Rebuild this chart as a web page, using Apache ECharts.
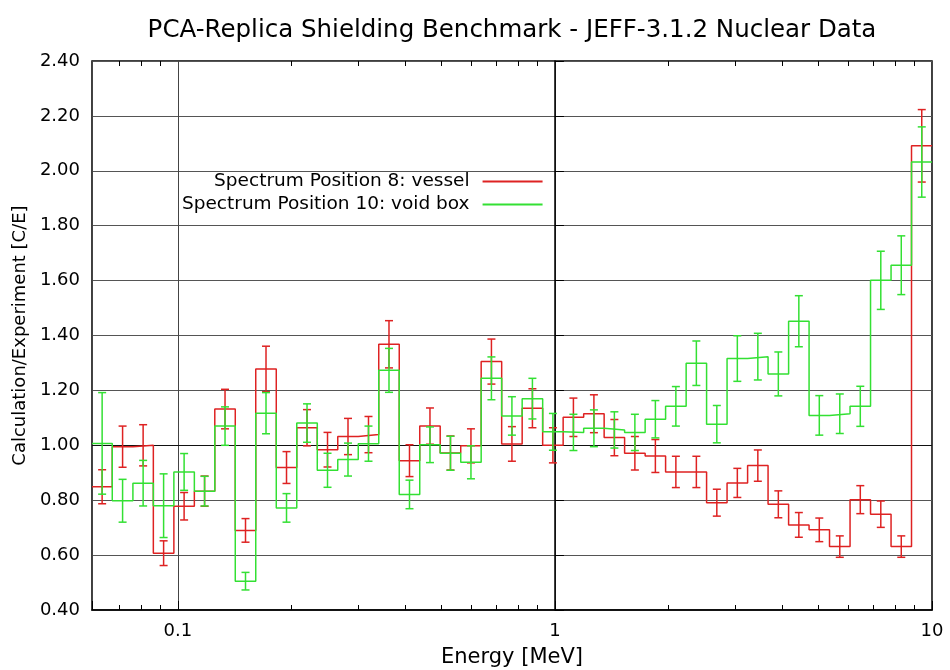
<!DOCTYPE html>
<html>
<head>
<meta charset="utf-8">
<script src="https://cdn.jsdelivr.net/npm/echarts@6/dist/echarts.min.js"></script>
<style>
  html, body { margin: 0; padding: 0; background: #fff; }
  #chart { width: 950px; height: 670px; }
</style>
</head>
<body>
<div id="chart"></div>
<script>
// Energy group boundaries [MeV] (41 bins)
const edges = [0.0592, 0.0670, 0.0760, 0.0861, 0.0976, 0.1106, 0.1253, 0.1420, 0.1609, 0.1824,
  0.2067, 0.2343, 0.2655, 0.3009, 0.3410, 0.3865, 0.4380, 0.4963, 0.5626, 0.6374,
  0.7224, 0.8187, 0.9279, 1.0515, 1.1919, 1.3506, 1.5303, 1.7349, 1.9656, 2.2284,
  2.5246, 2.8609, 3.2433, 3.6748, 4.1660, 4.7206, 5.3482, 6.0628, 6.8707, 7.7876,
  8.8239, 10];

// Spectrum Position 8: vessel  (C/E and uncertainty)
const vesselCE = [0.849, 0.995, 1.000, 0.607, 0.778, 0.833, 1.132, 0.690, 1.278, 0.919,
  1.064, 0.984, 1.032, 1.039, 1.368, 0.944, 1.070, 0.972, 0.998, 1.305,
  1.005, 1.135, 1.000, 1.102, 1.115, 1.028, 0.971, 0.961, 0.903, 0.903,
  0.791, 0.863, 0.926, 0.785, 0.710, 0.692, 0.631, 0.802, 0.749, 0.631,
  2.091];
const vesselErr = [0.062, 0.075, 0.075, 0.045, 0.050, 0.055, 0.072, 0.043, 0.083, 0.058,
  0.066, 0.063, 0.066, 0.066, 0.086, 0.058, 0.066, 0.062, 0.062, 0.082,
  0.063, 0.071, 0.064, 0.070, 0.069, 0.066, 0.061, 0.060, 0.057, 0.057,
  0.049, 0.053, 0.057, 0.049, 0.045, 0.043, 0.039, 0.051, 0.048, 0.039,
  0.132];

// Spectrum Position 10: void box
const voidCE = [1.007, 0.798, 0.862, 0.780, 0.903, 0.833, 1.070, 0.505, 1.117, 0.772,
  1.081, 0.909, 0.948, 1.006, 1.273, 0.821, 1.002, 0.971, 0.938, 1.244,
  1.107, 1.170, 1.049, 1.047, 1.062, 1.056, 1.047, 1.095, 1.142, 1.299,
  1.077, 1.316, 1.323, 1.260, 1.452, 1.109, 1.115, 1.142, 1.601, 1.656,
  2.032];
const voidErr = [0.185, 0.078, 0.083, 0.116, 0.067, 0.054, 0.070, 0.032, 0.075, 0.052,
  0.070, 0.062, 0.060, 0.064, 0.080, 0.052, 0.065, 0.062, 0.060, 0.078,
  0.070, 0.074, 0.067, 0.066, 0.067, 0.066, 0.066, 0.068, 0.072, 0.081,
  0.068, 0.083, 0.085, 0.080, 0.093, 0.072, 0.072, 0.073, 0.106, 0.107,
  0.128];

const xMajorLabels = [0.1, 1, 10];
const xMinorTicks = [0.07, 0.08, 0.09, 0.2, 0.3, 0.4, 0.5, 0.6, 0.7, 0.8, 0.9,
  2, 3, 4, 5, 6, 7, 8, 9];
const yTicks = { min: 0.4, max: 2.4, step: 0.2 };

const nameVessel = 'Spectrum Position 8: vessel';
const nameVoid = 'Spectrum Position 10: void box';
const colVessel = '#de2222';
const colVoid = '#33e033';
const FONT = 'DejaVu Sans';

function stepData(vals) {
  const d = vals.map((v, i) => [edges[i], v]);
  d.push([edges[edges.length - 1], vals[vals.length - 1]]);
  return d;
}
function errData(vals, errs) {
  return vals.map((v, i) => [Math.sqrt(edges[i] * edges[i + 1]), v - errs[i], v + errs[i]]);
}
function errRender(color) {
  return function (params, api) {
    const x = api.value(0), lo = api.value(1), hi = api.value(2);
    const pT = api.coord([x, hi]);
    const pB = api.coord([x, lo]);
    const cap = 4;
    const style = { stroke: color, lineWidth: 1.5 };
    return {
      type: 'group',
      children: [
        { type: 'line', shape: { x1: pT[0], y1: pT[1], x2: pB[0], y2: pB[1] }, style: style },
        { type: 'line', shape: { x1: pT[0] - cap, y1: pT[1], x2: pT[0] + cap, y2: pT[1] }, style: style },
        { type: 'line', shape: { x1: pB[0] - cap, y1: pB[1], x2: pB[0] + cap, y2: pB[1] }, style: style }
      ]
    };
  };
}

const chart = echarts.init(document.getElementById('chart'), null, { renderer: 'canvas' });
const lgMin = Math.log10(edges[0]);
const lgMax = Math.log10(edges[edges.length - 1]);

const minorAxis = (pos) => ({
  type: 'value', gridIndex: 0, position: pos, min: lgMin, max: lgMax,
  axisLine: { show: false }, axisLabel: { show: false }, splitLine: { show: false },
  axisTick: { show: true, inside: true, length: 5, customValues: xMinorTicks.map(Math.log10),
    lineStyle: { color: '#000', width: 1 } }
});

chart.setOption({
  animation: false,
  backgroundColor: '#fff',
  textStyle: { fontFamily: FONT },
  title: {
    text: 'PCA-Replica Shielding Benchmark - JEFF-3.1.2 Nuclear Data',
    left: 507, top: 13, textAlign: 'center',
    textStyle: { fontFamily: FONT, fontSize: 24.5, fontWeight: 'normal', color: '#000' }
  },
  grid: { left: 92, right: 18, top: 61, bottom: 60, outerBoundsMode: 'none', containLabel: false,
    show: true, borderColor: '#000', borderWidth: 1.5 },
  legend: {
    data: [{ name: nameVessel, icon: 'rect' }, { name: nameVoid, icon: 'rect' }],
    orient: 'vertical', align: 'right',
    left: 177, top: 167,
    itemWidth: 60, itemHeight: 2, itemGap: 4,
    selectedMode: false,
    textStyle: { fontFamily: FONT, fontSize: 18.5, color: '#000', padding: [0, 8, 0, 0] }
  },
  xAxis: [
    {
      type: 'log', logBase: 10, min: edges[0], max: edges[edges.length - 1],
      name: 'Energy [MeV]', nameLocation: 'middle', nameGap: 37,
      nameTextStyle: { fontFamily: FONT, fontSize: 21, color: '#000' },
      axisLine: { show: true, lineStyle: { color: '#000', width: 1.5 } },
      axisTick: { show: true, inside: true, length: 9, lineStyle: { color: '#000' } },
      axisLabel: {
        margin: 12, fontFamily: FONT, fontSize: 18, color: '#000',
        formatter: function (v) {
          for (const m of xMajorLabels) if (Math.abs(v - m) / m < 1e-6) return String(m);
          return '';
        }
      },
      splitLine: { show: true, lineStyle: { color: '#444', width: 1 } }
    },
    minorAxis('bottom'),
    minorAxis('top')
  ],
  yAxis: {
    type: 'value', min: yTicks.min, max: yTicks.max, interval: yTicks.step,
    name: 'Calculation/Experiment [C/E]', nameLocation: 'middle', nameGap: 62,
    nameTextStyle: { fontFamily: FONT, fontSize: 18, color: '#000' },
    axisLine: { show: true, lineStyle: { color: '#000', width: 1.5 } },
    axisTick: { show: true, inside: true, length: 9, lineStyle: { color: '#000' } },
    axisLabel: { margin: 12, fontFamily: FONT, fontSize: 18, color: '#000',
      formatter: v => v.toFixed(2) },
    splitLine: { show: true, lineStyle: { color: '#555', width: 1 } }
  },
  series: [
    {
      name: nameVessel, type: 'line', step: 'end', data: stepData(vesselCE),
      xAxisIndex: 0, symbol: 'none', lineStyle: { color: colVessel, width: 1.5 },
      itemStyle: { color: colVessel }, z: 3,
      markLine: { silent: true, symbol: 'none', label: { show: false },
        lineStyle: { color: '#111', width: 1.2, type: 'solid' }, data: [{ yAxis: 1 }], z: 1 }
    },
    {
      name: nameVessel, type: 'custom', xAxisIndex: 0, renderItem: errRender(colVessel),
      data: errData(vesselCE, vesselErr), encode: { x: 0, y: [1, 2] }, z: 3
    },
    {
      name: nameVoid, type: 'line', step: 'end', data: stepData(voidCE),
      xAxisIndex: 0, symbol: 'none', lineStyle: { color: colVoid, width: 1.5 },
      itemStyle: { color: colVoid }, z: 4
    },
    {
      name: nameVoid, type: 'custom', xAxisIndex: 0, renderItem: errRender(colVoid),
      data: errData(voidCE, voidErr), encode: { x: 0, y: [1, 2] }, z: 4
    }
  ]
});
</script>
</body>
</html>
